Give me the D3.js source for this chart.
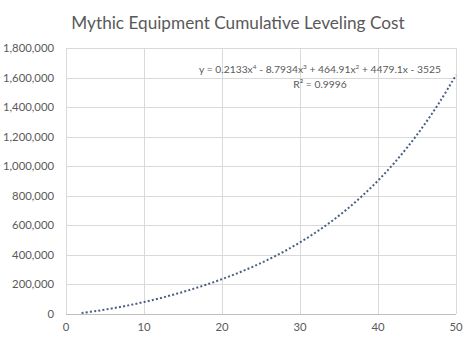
<!DOCTYPE html>
<html><head><meta charset="utf-8">
<script src="https://cdn.jsdelivr.net/npm/d3@7"></script>
<style>body{margin:0;background:#fff;} svg{display:block;}</style>
</head><body><svg id="c" width="476" height="345"></svg>
<script>
const levels = [2,4,6,8,10,12,14,16,18,20,22,24,26,28,30,32,34,36,38,40,42,44,46,48,50];
const costs = [7200,21300,38500,58400,81100,106400,134400,165100,198800,235800,276400,321000,370100,424500,484600,551400,625600,708200,800300,902800,1016900,1144000,1285400,1442500,1616700];
const xTicks = [0,10,20,30,40,50];
const yTicks = [0,200000,400000,600000,800000,1000000,1200000,1400000,1600000,1800000];
const titleText = "Mythic Equipment Cumulative Leveling Cost";
const eqText = ["y = 0.2133x", "4", " - 8.7934x", "3", " + 464.91x", "2", " + 4479.1x - 3525"];
const r2Text = "R² = 0.9996";

const svg = d3.select("#c");
const L=66, R=456, T=48, B=314;
const x = d3.scaleLinear().domain([0,50]).range([L,R]);
const y = d3.scaleLinear().domain([0,1800000]).range([B,T]);
const font = "Lato, 'Open Sans', sans-serif";
const grey = "#595959";

svg.append("text").attr("x",238).attr("y",29).attr("text-anchor","middle")
  .attr("font-family",font).attr("font-size",17.2).attr("fill",grey).text(titleText);

// grid
const g = svg.append("g");
g.selectAll("line.h").data(yTicks.slice(1)).join("line")
  .attr("x1",L).attr("x2",R).attr("y1",d=>Math.round(y(d))+0.5).attr("y2",d=>Math.round(y(d))+0.5)
  .attr("stroke","#d9d9d9").attr("stroke-width",1);
g.selectAll("line.v").data(xTicks).join("line")
  .attr("y1",T).attr("y2",B).attr("x1",d=>Math.round(x(d))+0.5).attr("x2",d=>Math.round(x(d))+0.5)
  .attr("stroke","#d9d9d9").attr("stroke-width",1);
g.append("line").attr("x1",L).attr("x2",R).attr("y1",B+0.5).attr("y2",B+0.5).attr("stroke","#bfbfbf");

// axes labels
const fmt = d3.format(",");
svg.append("g").selectAll("text").data(yTicks).join("text")
  .attr("x",54).attr("y",d=>y(d)+4).attr("text-anchor","end")
  .attr("font-family",font).attr("font-size",11.3).attr("fill",grey).text(d=>fmt(d));
svg.append("g").selectAll("text").data(xTicks).join("text")
  .attr("x",d=>x(d)).attr("y",331).attr("text-anchor","middle")
  .attr("font-family",font).attr("font-size",11.3).attr("fill",grey).text(d=>d);

// trend line
const line = d3.line().x((d,i)=>x(levels[i])).y(d=>y(d)).curve(d3.curveCatmullRom);
svg.append("path").datum(costs).attr("d",line).attr("fill","none")
  .attr("stroke","#4a5f82").attr("stroke-width",2).attr("stroke-dasharray","2 2.2");

// equation
const eq = svg.append("text").attr("x",320).attr("y",73).attr("text-anchor","middle")
  .attr("font-family",font).attr("font-size",10.3).attr("fill",grey);
eqText.forEach((t,i)=>{
  if(i%2===1) eq.append("tspan").attr("font-size",6.5).attr("dy",-4).text(t);
  else eq.append("tspan").attr("dy", i===0?0:4).text(t);
});
svg.append("text").attr("x",320).attr("y",88).attr("text-anchor","middle")
  .attr("font-family",font).attr("font-size",10.3).attr("fill",grey).text(r2Text);
</script></body></html>
